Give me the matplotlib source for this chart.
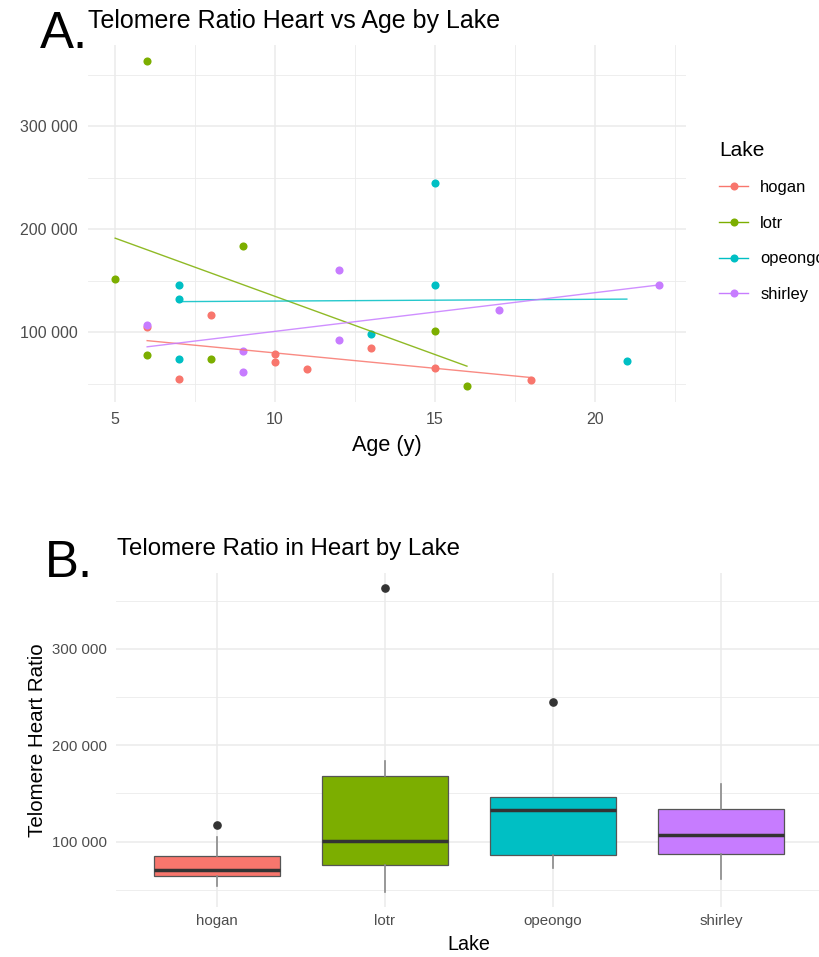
import numpy as np
import matplotlib
matplotlib.use("Agg")
import matplotlib.pyplot as plt
from matplotlib.ticker import FuncFormatter, MultipleLocator
from matplotlib.lines import Line2D

plt.rcParams["font.family"] = ["Liberation Sans", "DejaVu Sans"]

# Data
LAKES = ["hogan", "lotr", "opeongo", "shirley"]
COLORS = ["#F8766D", "#7CAE00", "#00BFC4", "#C77CFF"]

hogan_age = [6, 7, 8, 10, 10, 11, 13, 15, 18]
hogan_ratio = [105000, 55000, 117000, 79000, 71000, 64000, 85000, 65000, 54000]
lotr_age = [5, 6, 6, 8, 9, 15, 16]
lotr_ratio = [152000, 363000, 78000, 74000, 184000, 101000, 48000]
opeongo_age = [7, 7, 7, 13, 15, 15, 21]
opeongo_ratio = [146000, 132500, 74000, 98000, 245000, 146000, 72500]
shirley_age = [6, 9, 9, 12, 12, 17, 22]
shirley_ratio = [107000, 82000, 61000, 160000, 92000, 121500, 146000]

ages = [hogan_age, lotr_age, opeongo_age, shirley_age]
ratios = [hogan_ratio, lotr_ratio, opeongo_ratio, shirley_ratio]

W, H = 819, 957
GRID = "#EBEBEB"
TICK = "#4D4D4D"


def px_box(left, top, right, bottom):
    return [left / W, 1 - bottom / H, (right - left) / W, (bottom - top) / H]


def padded(values, frac=0.05):
    lo, hi = min(values), max(values)
    pad = (hi - lo) * frac
    return lo - pad, hi + pad


def space_thousands(v, pos):
    return f"{v:,.0f}".replace(",", " ")


def style_axes(ax, ytick_pad, xtick_pad, tick_size):
    for s in ax.spines.values():
        s.set_visible(False)
    ax.tick_params(which="both", length=0, colors=TICK, labelsize=tick_size)
    ax.tick_params(axis="y", pad=ytick_pad)
    ax.tick_params(axis="x", pad=xtick_pad)
    ax.yaxis.set_major_locator(MultipleLocator(100000))
    ax.yaxis.set_minor_locator(MultipleLocator(50000))
    ax.yaxis.set_major_formatter(FuncFormatter(space_thousands))
    ax.grid(which="major", color=GRID, lw=1.1)
    ax.grid(which="minor", color=GRID, lw=0.6)
    ax.set_axisbelow(True)


fig = plt.figure(figsize=(W / 100, H / 100), dpi=100)

all_age = sum(ages, [])
all_ratio = sum(ratios, [])

# A. scatter with linear fits
ax1 = fig.add_axes(px_box(88, 45, 686, 402))
for age, ratio, c in zip(ages, ratios, COLORS):
    ax1.scatter(age, ratio, s=34, color=c, linewidths=0, zorder=3)
    slope, intercept = np.polyfit(age, ratio, 1)
    xs = np.array([min(age), max(age)])
    ax1.plot(xs, slope * xs + intercept, color=c, lw=1.0, alpha=0.85, zorder=4)

ax1.set_xlim(*padded(all_age))
ax1.set_ylim(*padded(all_ratio))
ax1.set_xticks([5, 10, 15, 20])
ax1.xaxis.set_minor_locator(MultipleLocator(2.5))
style_axes(ax1, ytick_pad=7.7, xtick_pad=7.2, tick_size=11.5)
ax1.set_xlabel("Age (y)", fontsize=15.6)
ax1.xaxis.set_label_coords(0.5, -0.093)

handles = [Line2D([0], [0], color=c, lw=1.0, marker="o", markersize=5.8,
                  markeredgewidth=0) for c in COLORS]
fig.legend(handles, LAKES, loc="upper left",
           bbox_to_anchor=(719 / W, 1 - 140.5 / H), frameon=False,
           title="Lake", title_fontsize=15, fontsize=11.9, alignment="left",
           borderpad=0, borderaxespad=0, labelspacing=1.25,
           handlelength=1.76, handletextpad=0.73)

# B. boxplot per lake
ax2 = fig.add_axes(px_box(116, 573, 822, 907))
positions = np.arange(1, len(LAKES) + 1)
bp = ax2.boxplot(ratios, positions=positions, widths=0.75, patch_artist=True,
                 showcaps=False,
                 medianprops=dict(color="#333333", lw=2.5),
                 whiskerprops=dict(color="#8A8A8A", lw=1.2),
                 boxprops=dict(edgecolor="#555555", lw=0.9),
                 flierprops=dict(marker="o", markerfacecolor="#333333",
                                 markeredgecolor="#333333", markersize=5.2))
for patch, c in zip(bp["boxes"], COLORS):
    patch.set_facecolor(c)

ax2.set_xlim(0.4, len(LAKES) + 0.6)
ax2.set_ylim(*padded(all_ratio))
ax2.set_xticks(positions, LAKES)
style_axes(ax2, ytick_pad=6.7, xtick_pad=5.3, tick_size=10.8)
ax2.set_xlabel("Lake", fontsize=14.2)
ax2.xaxis.set_label_coords(0.5, -0.085)
ax2.set_ylabel("Telomere Heart Ratio", fontsize=14.8)
ax2.yaxis.set_label_coords(-0.098, 0.5)

# titles and panel letters
fig.text(88 / W, 1 - 28 / H, "Telomere Ratio Heart vs Age by Lake",
         fontsize=18, va="baseline")
fig.text(40 / W, 1 - 48 / H, "A.", fontsize=36.7, va="baseline")
fig.text(117 / W, 1 - 555 / H, "Telomere Ratio in Heart by Lake",
         fontsize=17.3, va="baseline")
fig.text(45 / W, 1 - 577 / H, "B.", fontsize=36.7, va="baseline")

fig.savefig("out.png", dpi=100)
